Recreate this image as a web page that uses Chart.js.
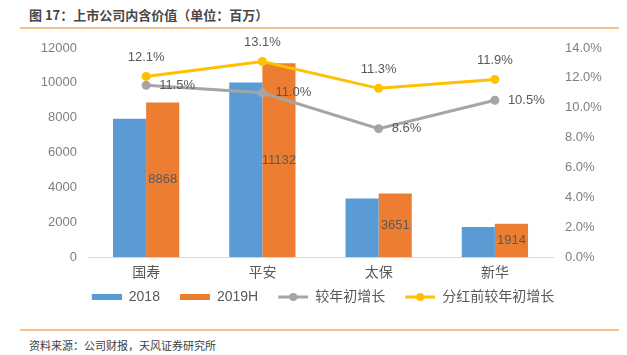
<!DOCTYPE html>
<html><head><meta charset="utf-8">
<script src="https://cdn.jsdelivr.net/npm/chart.js@4/dist/chart.umd.min.js"></script>
<style>
html,body{margin:0;padding:0;background:#fff;width:627px;height:355px;overflow:hidden;font-family:"Liberation Sans","Noto Sans CJK SC",sans-serif;}
#title{position:absolute;left:29px;top:6px;font-size:13px;font-weight:bold;color:#484848;line-height:18px;white-space:nowrap;font-family:"Noto Sans CJK SC",sans-serif;}
.rule{position:absolute;left:20px;width:599px;height:2px;background:#F9C08F;}
#src{position:absolute;left:29px;top:337px;font-size:11px;color:#404040;line-height:16px;white-space:nowrap;font-family:"Noto Sans CJK SC",sans-serif;}
#wrap{position:absolute;left:0;top:35px;width:627px;height:285px;}
</style></head>
<body>
<div id="title">图 17：上市公司内含价值（单位：百万）</div>
<div class="rule" style="top:27px"></div>
<div id="wrap"><canvas id="c"></canvas></div>
<div class="rule" style="top:329px"></div>
<div id="src">资料来源：公司财报，天风证券研究所</div>
<script>
const categories = ['国寿', '平安', '太保', '新华'];
const seriesNames = ['2018', '2019H', '较年初增长', '分红前较年初增长'];
const ev2018 = [7944, 10021, 3363, 1731];
const ev2019H = [8868, 11132, 3651, 1914];
const growth = [11.5, 11.0, 8.6, 10.5];
const growthPreDiv = [12.1, 13.1, 11.3, 11.9];
const leftTicks = [0, 2000, 4000, 6000, 8000, 10000, 12000];
const rightTicks = [0, 2, 4, 6, 8, 10, 12, 14];

const BLUE = '#5B9BD5', ORANGE = '#ED7D31', GRAY = '#A5A5A5', YELLOW = '#FFC000';
const FONT = '"Liberation Sans","Noto Sans CJK SC",sans-serif';

// legend symbols: 40px wide, visible part on the right 30px (left 10px transparent = extra gap)
function boxImg(color) {
  const c = document.createElement('canvas'); c.width = 40; c.height = 6;
  const x = c.getContext('2d'); x.fillStyle = color; x.fillRect(10, 0, 30, 6); return c;
}
function lineImg(color) {
  const c = document.createElement('canvas'); c.width = 40; c.height = 10;
  const x = c.getContext('2d'); x.strokeStyle = color; x.lineWidth = 3;
  x.beginPath(); x.moveTo(10, 5); x.lineTo(40, 5); x.stroke();
  x.fillStyle = color; x.beginPath(); x.arc(25, 5, 4, 0, Math.PI * 2); x.fill(); return c;
}
const legendImgs = [boxImg(BLUE), boxImg(ORANGE), lineImg(GRAY), lineImg(YELLOW)];

const labelPlugin = {
  id: 'vlabels',
  afterDatasetsDraw(chart) {
    const ctx = chart.ctx;
    ctx.save();
    ctx.font = '13px ' + FONT;
    ctx.fillStyle = '#595959';
    ctx.textBaseline = 'middle';
    const mb = chart.getDatasetMeta(1);
    ctx.textAlign = 'center';
    mb.data.forEach((el, i) => {
      ctx.fillText(String(ev2019H[i]), el.x, (el.y + el.base) / 2);
    });
    const mg = chart.getDatasetMeta(2);
    ctx.textAlign = 'left';
    mg.data.forEach((el, i) => {
      ctx.fillText(growth[i].toFixed(1) + '%', el.x + 13, el.y);
    });
    const my = chart.getDatasetMeta(3);
    ctx.textAlign = 'center';
    my.data.forEach((el, i) => {
      ctx.fillText(growthPreDiv[i].toFixed(1) + '%', el.x, el.y - 19);
    });
    ctx.restore();
  }
};

new Chart(document.getElementById('c'), {
  type: 'bar',
  data: {
    labels: categories,
    datasets: [
      { label: seriesNames[0], data: ev2018, backgroundColor: BLUE, yAxisID: 'y', order: 2,
        categoryPercentage: 0.57, barPercentage: 1.0 },
      { label: seriesNames[1], data: ev2019H, backgroundColor: ORANGE, yAxisID: 'y', order: 2,
        categoryPercentage: 0.57, barPercentage: 1.0 },
      { type: 'line', label: seriesNames[2], data: growth, borderColor: GRAY, backgroundColor: GRAY,
        borderWidth: 3, pointRadius: 4.5, pointBackgroundColor: GRAY, pointBorderWidth: 0,
        yAxisID: 'y1', order: 1, tension: 0 },
      { type: 'line', label: seriesNames[3], data: growthPreDiv, borderColor: YELLOW, backgroundColor: YELLOW,
        borderWidth: 3, pointRadius: 4.5, pointBackgroundColor: YELLOW, pointBorderWidth: 0,
        yAxisID: 'y1', order: 0, tension: 0 }
    ]
  },
  options: {
    responsive: true,
    maintainAspectRatio: false,
    animation: false,
    layout: { padding: { top: 13, left: 9, right: 0, bottom: 6 } },
    plugins: {
      tooltip: { enabled: false },
      legend: {
        position: 'bottom',
        labels: {
          usePointStyle: true,
          pointStyleWidth: 40,
          padding: 10,
          color: '#595959',
          font: { size: 14, family: FONT },
          generateLabels(chart) {
            const items = Chart.defaults.plugins.legend.labels.generateLabels(chart);
            items.forEach(it => { it.pointStyle = legendImgs[it.datasetIndex]; });
            return items;
          },
          sort: (a, b) => a.datasetIndex - b.datasetIndex
        }
      }
    },
    scales: {
      x: {
        afterFit(s) { s.height = s.height - 10; },
        grid: { display: false, drawTicks: false },
        border: { display: true, color: '#D9D9D9', width: 1 },
        ticks: { color: '#595959', font: { size: 14, family: FONT }, padding: 8 }
      },
      y: {
        position: 'left',
        min: leftTicks[0], max: leftTicks[leftTicks.length - 1],
        afterBuildTicks(s) { s.ticks = leftTicks.map(v => ({ value: v })); },
        afterFit(s) { s.width = 79; s.paddingTop = 0; },
        grid: { display: false, drawTicks: false },
        border: { display: false },
        ticks: { color: '#7F7F7F', font: { size: 13, family: FONT }, padding: 11,
          callback: v => String(v) }
      },
      y1: {
        position: 'right',
        min: rightTicks[0], max: rightTicks[rightTicks.length - 1],
        afterBuildTicks(s) { s.ticks = rightTicks.map(v => ({ value: v })); },
        afterFit(s) { s.width = 74; s.paddingTop = 0; },
        grid: { display: false, drawTicks: false },
        border: { display: false },
        ticks: { color: '#7F7F7F', font: { size: 13, family: FONT }, padding: 12,
          callback: v => Number(v).toFixed(1) + '%' }
      }
    }
  },
  plugins: [labelPlugin]
});
</script>
</body></html>
